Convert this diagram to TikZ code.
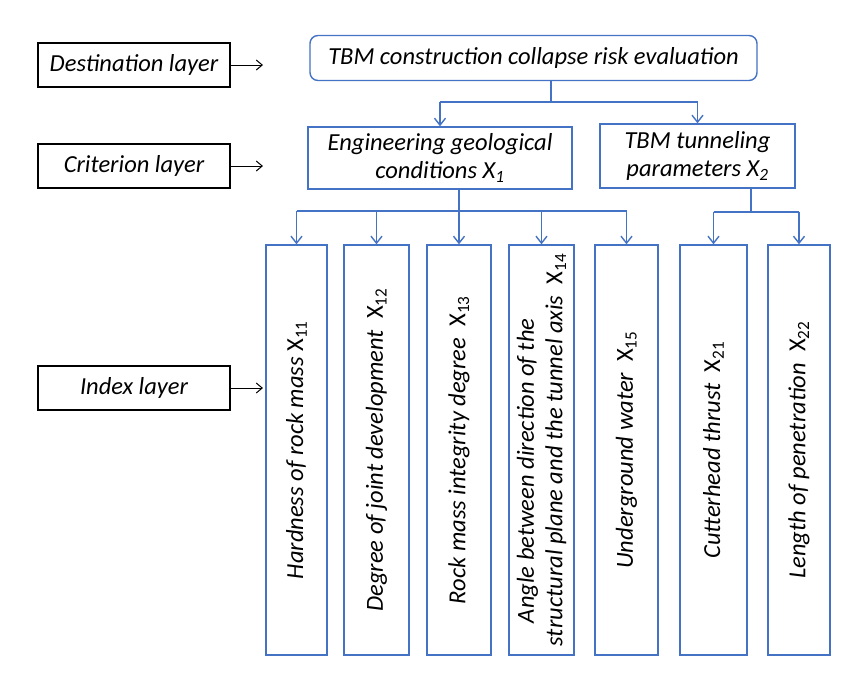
\documentclass[tikz,border=0pt]{standalone}
\usepackage{fontspec}
\setmainfont{Carlito}
\usetikzlibrary{arrows.meta}
\definecolor{bl}{HTML}{4472C4}
\begin{document}
\begin{tikzpicture}[x=1pt,y=-1pt,
  every node/.style={font=\itshape\fontsize{24.5}{28.5}\selectfont},
  lbox/.style={draw=black, line width=1.2pt, minimum width=192pt, minimum height=44pt, inner sep=0pt},
  larr/.style={-{Straight Barb[length=6pt,width=10pt]}, line width=1pt, black},
  bbox/.style={draw=bl, line width=1.4pt, inner sep=0pt, align=center},
  ibox/.style={bbox, rotate=90, minimum width=410pt},
  bline/.style={draw=bl, line width=1.4pt},
  barr/.style={bline, -{Straight Barb[length=7pt,width=11pt]}},
]
\useasboundingbox (0,0) rectangle (864,686);
% left layer labels
\node[lbox] (dest) at (134,65) {Destination layer};
\node[lbox] (crit) at (134,166) {Criterion layer};
\node[lbox] (idx) at (134,388) {Index layer};
\coordinate (da) at (263,65);
\coordinate (ca) at (263,166);
\coordinate (ia) at (263,388);
\draw[larr] (dest.east) -- (da);
\draw[larr] (crit.east) -- (ca);
\draw[larr] (idx.east) -- (ia);
% goal
\node[bbox, rounded corners=8pt, minimum width=447pt, minimum height=45pt] (top) at (533.5,58) {TBM construction collapse risk evaluation};
% criteria
\node[bbox, minimum width=264pt, minimum height=62pt] (eng) at (440,158) {Engineering geological\\conditions X\textsubscript{1}};
\node[bbox, minimum width=195pt, minimum height=64pt] (tbm) at (697.5,156) {TBM tunneling\\parameters X\textsubscript{2}};
% indices
\node[ibox, minimum height=61pt] (b1) at (296.5,450) {Hardness of rock mass {\upshape X}\textsubscript{\upshape 11}};
\node[ibox, minimum height=65pt] (b2) at (376.5,450) {Degree of joint development\ \ {\upshape X}\textsubscript{\upshape 12}};
\node[ibox, minimum height=64pt] (b3) at (459,450) {Rock mass integrity degree\ \ {\upshape X}\textsubscript{\upshape 13}};
\node[ibox, minimum height=65pt] (b4) at (541.5,450) {Angle between direction of the\ \ \phantom{X\textsubscript{14}}\\structural plane and the tunnel axis\ \ {\upshape X}\textsubscript{\upshape 14}};
\node[ibox, minimum height=63pt] (b5) at (626.5,450) {Underground water\ \ {\upshape X}\textsubscript{\upshape 15}};
\node[ibox, minimum height=67pt] (b6) at (713.5,450) {Cutterhead thrust\ \ {\upshape X}\textsubscript{\upshape 21}};
\node[ibox, minimum height=62pt] (b7) at (799,450) {Length of penetration\ \ {\upshape X}\textsubscript{\upshape 22}};
% connectors level 1
\coordinate (j1) at (551,102);
\draw[bline] (j1 |- top.south) -- (j1);
\draw[bline] (eng.north |- j1) -- (tbm.north |- j1);
\draw[barr] (eng.north |- j1) -- (eng.north);
\draw[barr] (tbm.north |- j1) -- (tbm.north);
% connectors level 2
\coordinate (j2) at (459,211);
\draw[bline] (j2 |- eng.south) -- (j2);
\draw[bline] (b1.east |- j2) -- (b5.east |- j2);
\foreach \b in {b1,b2,b3,b4,b5} \draw[barr] (\b.east |- j2) -- (\b.east);
\coordinate (j3) at (751,212);
\draw[bline] (j3 |- tbm.south) -- (j3);
\draw[bline] (b6.east |- j3) -- (b7.east |- j3);
\foreach \b in {b6,b7} \draw[barr] (\b.east |- j3) -- (\b.east);
\end{tikzpicture}
\end{document}
